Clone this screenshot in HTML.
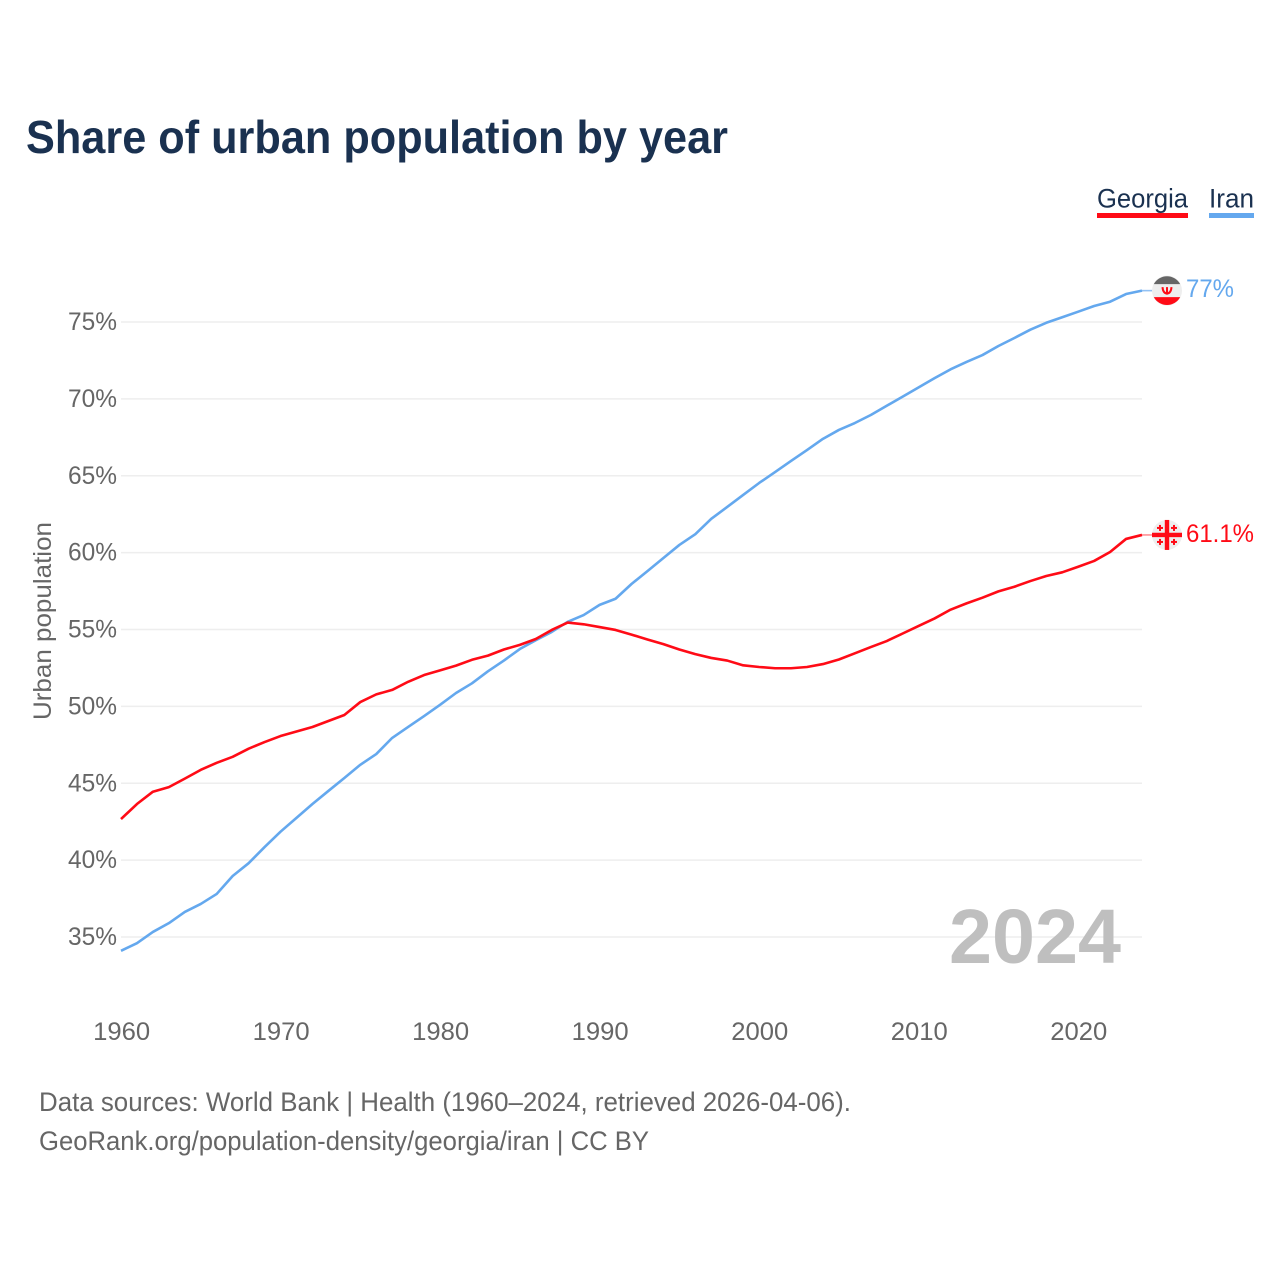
<!DOCTYPE html>
<html lang="en">
<head>
<meta charset="utf-8">
<title>Share of urban population by year</title>
<style>
html,body{margin:0;padding:0;background:#fff}
svg{display:block;font-family:"Liberation Sans",sans-serif}
</style>
</head>
<body>
<svg id="chart" width="1280" height="1280" viewBox="0 0 1280 1280" xmlns="http://www.w3.org/2000/svg">
  <rect x="0" y="0" width="1280" height="1280" fill="#ffffff"/>
  <text x="26" y="153" font-size="46" font-weight="700" fill="#1a3150" textLength="702" lengthAdjust="spacingAndGlyphs">Share of urban population by year</text>

  <g id="grid"></g>
  <g id="yticks"></g>
  <g id="xticks"></g>

  <text transform="translate(51 621) rotate(-90)" text-anchor="middle" font-size="25" fill="#666666" textLength="198" lengthAdjust="spacingAndGlyphs">Urban population</text>

  <text x="949" y="963" font-size="77" font-weight="700" fill="#bfbfbf" textLength="172" lengthAdjust="spacingAndGlyphs">2024</text>

  <g id="series"></g>

  <g>
    <text x="1097" y="207.5" font-size="27" fill="#1a3150" textLength="91" lengthAdjust="spacingAndGlyphs">Georgia</text>
    <rect x="1097" y="213" width="91" height="5" fill="#ff0b16"/>
  </g>
  <g>
    <text x="1209" y="207.5" font-size="27" fill="#1a3150" textLength="45" lengthAdjust="spacingAndGlyphs">Iran</text>
    <rect x="1209" y="213" width="45" height="5" fill="#64a8ee"/>
  </g>

  <g id="end-markers"></g>

  <text x="39" y="1111" font-size="27" fill="#666666" textLength="812" lengthAdjust="spacingAndGlyphs">Data sources: World Bank | Health (1960–2024, retrieved 2026-04-06).</text>
  <text x="39" y="1150" font-size="27" fill="#666666" textLength="610" lengthAdjust="spacingAndGlyphs">GeoRank.org/population-density/georgia/iran | CC BY</text>
</svg>
<script>
const years = [1960,1961,1962,1963,1964,1965,1966,1967,1968,1969,1970,1971,1972,1973,1974,1975,1976,1977,1978,1979,1980,1981,1982,1983,1984,1985,1986,1987,1988,1989,1990,1991,1992,1993,1994,1995,1996,1997,1998,1999,2000,2001,2002,2003,2004,2005,2006,2007,2008,2009,2010,2011,2012,2013,2014,2015,2016,2017,2018,2019,2020,2021,2022,2023,2024];
const georgia = [42.67,43.65,44.45,44.75,45.3,45.87,46.33,46.72,47.25,47.68,48.07,48.37,48.66,49.05,49.44,50.28,50.78,51.07,51.6,52.04,52.34,52.65,53.03,53.3,53.7,54.0,54.38,54.97,55.45,55.34,55.16,54.97,54.67,54.35,54.05,53.7,53.4,53.15,52.98,52.67,52.56,52.48,52.48,52.56,52.75,53.05,53.45,53.86,54.25,54.74,55.23,55.72,56.29,56.7,57.07,57.48,57.78,58.15,58.48,58.72,59.08,59.46,60.04,60.89,61.15];
const iran = [34.1,34.6,35.33,35.9,36.63,37.15,37.8,38.97,39.8,40.85,41.85,42.75,43.65,44.5,45.34,46.2,46.9,47.95,48.66,49.37,50.1,50.87,51.5,52.28,52.98,53.73,54.3,54.84,55.5,55.94,56.6,57.0,57.96,58.8,59.65,60.5,61.2,62.2,62.97,63.75,64.53,65.24,65.96,66.67,67.4,67.98,68.43,68.95,69.55,70.15,70.75,71.35,71.92,72.4,72.85,73.44,73.96,74.5,74.95,75.31,75.67,76.04,76.32,76.82,77.04];
const yTickValues = [35,40,45,50,55,60,65,70,75];
const yTickLabels = ["35%","40%","45%","50%","55%","60%","65%","70%","75%"];
const xTickValues = [1960,1970,1980,1990,2000,2010,2020];
const xTickLabels = ["1960","1970","1980","1990","2000","2010","2020"];
const georgiaLabel = "61.1%";
const iranLabel = "77%";

const NS = "http://www.w3.org/2000/svg";
function xScale(year){ return 121 + (year - 1960) * (1142 - 121) / 64; }
function yScale(v){ return 322 + (75 - v) * (937 - 322) / 40; }
function make(tag, attrs, parent, text){
  const el = document.createElementNS(NS, tag);
  for (const k in attrs) el.setAttribute(k, attrs[k]);
  if (text !== undefined) el.textContent = text;
  parent.appendChild(el);
  return el;
}
const gridG = document.getElementById("grid");
const yG = document.getElementById("yticks");
const xG = document.getElementById("xticks");
const seriesG = document.getElementById("series");
const markerG = document.getElementById("end-markers");
const lastYear = years[years.length - 1];

yTickValues.forEach(function(v, i){
  const line = make("line", {x1:xScale(1960), x2:xScale(lastYear), y1:yScale(v), y2:yScale(v), stroke:"#eeeeee", "stroke-width":1.6}, gridG);
  
  
  const t = make("text", {x:117, y:yScale(v) + 8, "text-anchor":"end", "font-size":25, fill:"#666666", textLength:49, lengthAdjust:"spacingAndGlyphs"}, yG, yTickLabels[i]);
  
  
});
xTickValues.forEach(function(v, i){
  const t = make("text", {x:xScale(v) + 0.6, y:1040, "text-anchor":"middle", "font-size":25, fill:"#666666", textLength:57, lengthAdjust:"spacingAndGlyphs"}, xG, xTickLabels[i]);
  
  
});

function pathFor(values){
  return values.map(function(v, i){
    return (i ? "L" : "M") + xScale(years[i]).toFixed(2) + " " + yScale(v).toFixed(2);
  }).join(" ");
}
const lineIran = make("path", {d:pathFor(iran), fill:"none", stroke:"#64a8ee", "stroke-width":2.6, "stroke-linejoin":"round"}, seriesG);


const lineGeorgia = make("path", {d:pathFor(georgia), fill:"none", stroke:"#ff0b16", "stroke-width":2.6, "stroke-linejoin":"round"}, seriesG);



/* Connectors and flags */
const xEnd = xScale(lastYear);
const flagX = xEnd + 25;
const iranY = yScale(iran[iran.length - 1]);
const geoY = yScale(georgia[georgia.length - 1]);

const connIran = make("line", {x1:xEnd, x2:flagX - 14, y1:iranY, y2:iranY, stroke:"#64a8ee", "stroke-width":1.6, opacity:0.7}, markerG);


const connGeo = make("line", {x1:xEnd, x2:flagX - 14, y1:geoY, y2:geoY, stroke:"#ff0b16", "stroke-width":1.6, opacity:0.45}, markerG);



const flagIran = make("g", {transform:"translate(" + flagX + " " + iranY + ")"}, markerG);


make("circle", {r:15, fill:"#eeeeee"}, flagIran);
make("path", {d:"M-13.2 -6.5 A15 15 0 0 1 13.2 -6.5 Z", fill:"#666666"}, flagIran);
make("path", {d:"M-13.2 6.5 A15 15 0 0 0 13.2 6.5 Z", fill:"#ff0b16"}, flagIran);
make("path", {d:"M-4.5 -3.5 Q-4 2.5 0 3 Q4 2.5 4.5 -3.5 M0 -3.5 V4", fill:"none", stroke:"#ff0b16", "stroke-width":2}, flagIran);

const flagGeo = make("g", {transform:"translate(" + flagX + " " + geoY + ")"}, markerG);


make("circle", {r:15, fill:"#eeeeee"}, flagGeo);
make("rect", {x:-2.2, y:-15, width:4.4, height:30, fill:"#ff0b16"}, flagGeo);
make("rect", {x:-15, y:-2.2, width:30, height:4.4, fill:"#ff0b16"}, flagGeo);
[[-7,-7],[7,-7],[-7,7],[7,7]].forEach(function(c){
  make("rect", {x:c[0]-1, y:c[1]-3, width:2, height:6, fill:"#ff0b16"}, flagGeo);
  make("rect", {x:c[0]-3, y:c[1]-1, width:6, height:2, fill:"#ff0b16"}, flagGeo);
});

const valIran = make("text", {x:1186, y:iranY + 6.5, "font-size":25, fill:"#64a8ee", textLength:48, lengthAdjust:"spacingAndGlyphs"}, markerG, iranLabel);


const valGeo = make("text", {x:1186, y:geoY + 7, "font-size":25, fill:"#ff0b16", textLength:68, lengthAdjust:"spacingAndGlyphs"}, markerG, georgiaLabel);


</script>
</body>
</html>
